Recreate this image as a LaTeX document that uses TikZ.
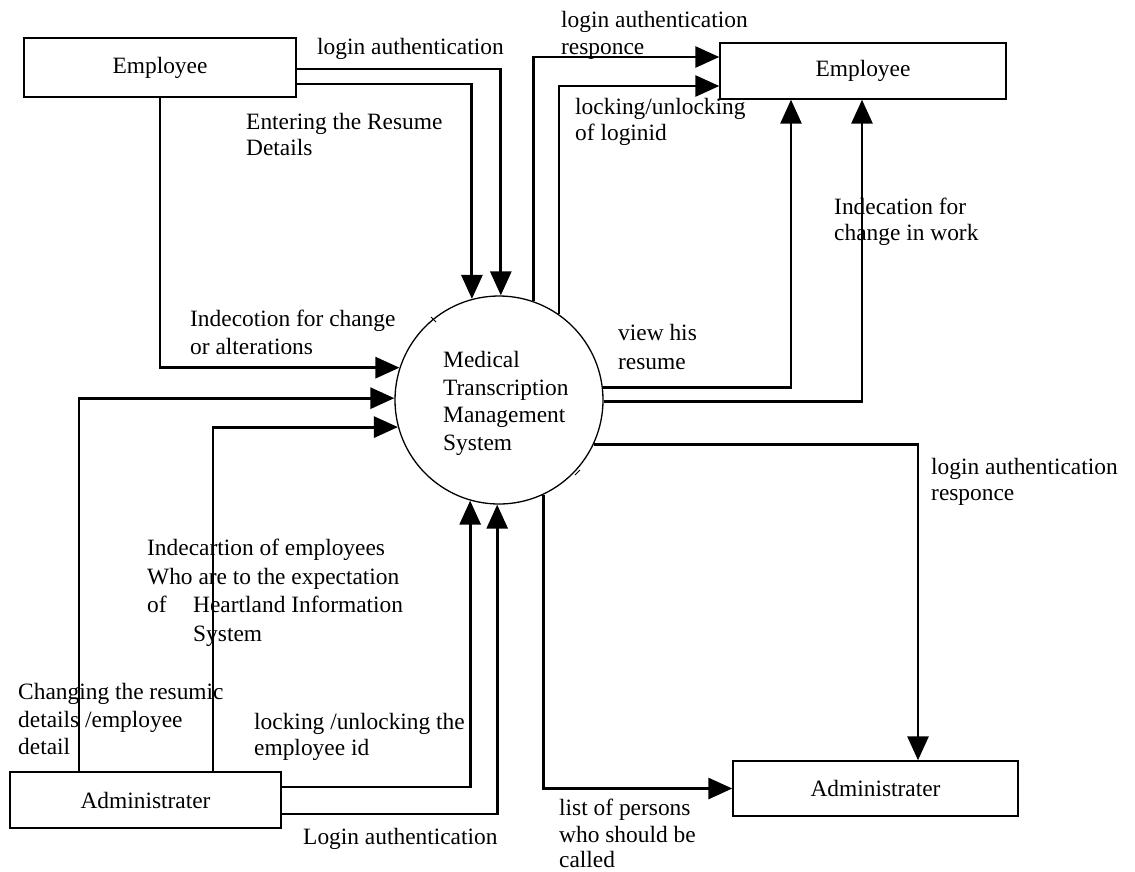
\documentclass[tikz,border=0pt]{standalone}
\usepackage{fontspec}
\setmainfont{Liberation Serif}
\usetikzlibrary{arrows.meta,calc}
\begin{document}
\begin{tikzpicture}[x=1pt,y=-1pt,
  every node/.style={font=\fontsize{23.4}{27.5}\selectfont},
  entity/.style={draw,line width=1.4pt,inner sep=0pt},
  process/.style={draw,circle,line width=1.3pt,minimum size=208pt,inner sep=0pt},
  flow/.style={line width=2.9pt,-{Triangle[length=24pt,width=21pt]}},
  lbl/.style={anchor=base west,inner sep=0pt}]
\useasboundingbox[fill=white] (0,0) rectangle (1135,871);

% external entities and the process
\node[entity,minimum width=272pt,minimum height=59pt] (emp1) at (160,67.5) {\raisebox{-2pt}{Employee}};
\node[entity,minimum width=286pt,minimum height=56pt] (emp2) at (863,71) {\raisebox{-2pt}{Employee}};
\node[entity,minimum width=271pt,minimum height=56pt] (adm1) at (145.5,800) {Administrater};
\node[entity,minimum width=285pt,minimum height=55pt] (adm2) at (875.5,788.5) {Administrater};
\node[process] (mtms) at (499,400) {};

% process label
\node[lbl] (m1) at (443,367) {Medical};
\node[lbl] (m2) at (443,395) {Transcription};
\node[lbl] (m3) at (443,422) {Management};
\node[lbl] (m4) at (443,450) {System};

% flows from the employee
\draw[flow] ([yshift=-1.5pt]emp1.east) -| (mtms.89);
\draw[flow] ([yshift=-16.5pt]emp1.east) -| (mtms.105);
\draw[flow] (emp1.south) |- (mtms.162.7);

% flows from the administrator
\draw[flow] ([xshift=-66.5pt]adm1.north) |- (mtms.179);
\draw[flow] ([xshift=67.5pt]adm1.north) |- (mtms.195);
\draw[flow] ([yshift=13pt]adm1.east) -| (mtms.254.4);
\draw[flow] ([yshift=-14pt]adm1.east) -| (mtms.269.4);

% flows back to the employee
\draw[flow] (mtms.71.5) |- ([yshift=14pt]emp2.west);
\draw[flow] (mtms.55.4) |- ([yshift=-15pt]emp2.west);
\draw[flow] (mtms.7.7) -| ([xshift=-72pt]emp2.south);
\draw[flow] (mtms.359.4) -| ([xshift=-1pt]emp2.south);

% flows back to the administrator
\draw[flow] (mtms.335) -| ([xshift=42.5pt]adm2.north);
\draw[flow] (mtms.295.6) |- (adm2.west);

% small marks on the circle
\draw[line width=1pt] (431,317) -- (436,322);
\draw[line width=1pt] (575,475) -- (580,470);

% flow labels
\node[lbl] (a1) at (317,54) {login authentication};
\node[lbl] (a2) at (246,129) {Entering the Resume};
\node[lbl] (a3) at (246,155) {Details};
\node[lbl] (b1) at (561,27) {login authentication};
\node[lbl] (b2) at (561,54) {responce};
\node[lbl] (b3) at (575,114) {locking/unlocking};
\node[lbl] (b4) at (575,140) {of loginid};
\node[lbl] (c1) at (834,214) {Indecation for};
\node[lbl] (c2) at (834,240) {change in work};
\node[lbl] (d1) at (190,326) {Indecotion for change};
\node[lbl] (d2) at (190,354) {or alterations};
\node[lbl] (e1) at (618,340) {view his};
\node[lbl] (e2) at (618,369) {resume};
\node[lbl] (f1) at (931,474) {login authentication};
\node[lbl] (f2) at (931,500) {responce};
\node[lbl] (g1) at (147,555) {Indecartion of employees};
\node[lbl] (g2) at (147,584) {Who are to the expectation};
\node[lbl] (g3) at (147,612) {of};
\node[lbl] (g4) at (193,612) {Heartland Information};
\node[lbl] (g5) at (193,641) {System};
\node[lbl] (h1) at (18,699) {Changing the resumic};
\node[lbl] (h2) at (18,727) {details /employee};
\node[lbl] (h3) at (18,754) {detail};
\node[lbl] (k1) at (254,729) {locking /unlocking the};
\node[lbl] (k2) at (254,755) {employee id};
\node[lbl] (n1) at (303,844) {Login authentication};
\node[lbl] (p1) at (559,815) {list of persons};
\node[lbl] (p2) at (559,842) {who should be};
\node[lbl] (p3) at (559,867) {called};
\end{tikzpicture}
\end{document}
